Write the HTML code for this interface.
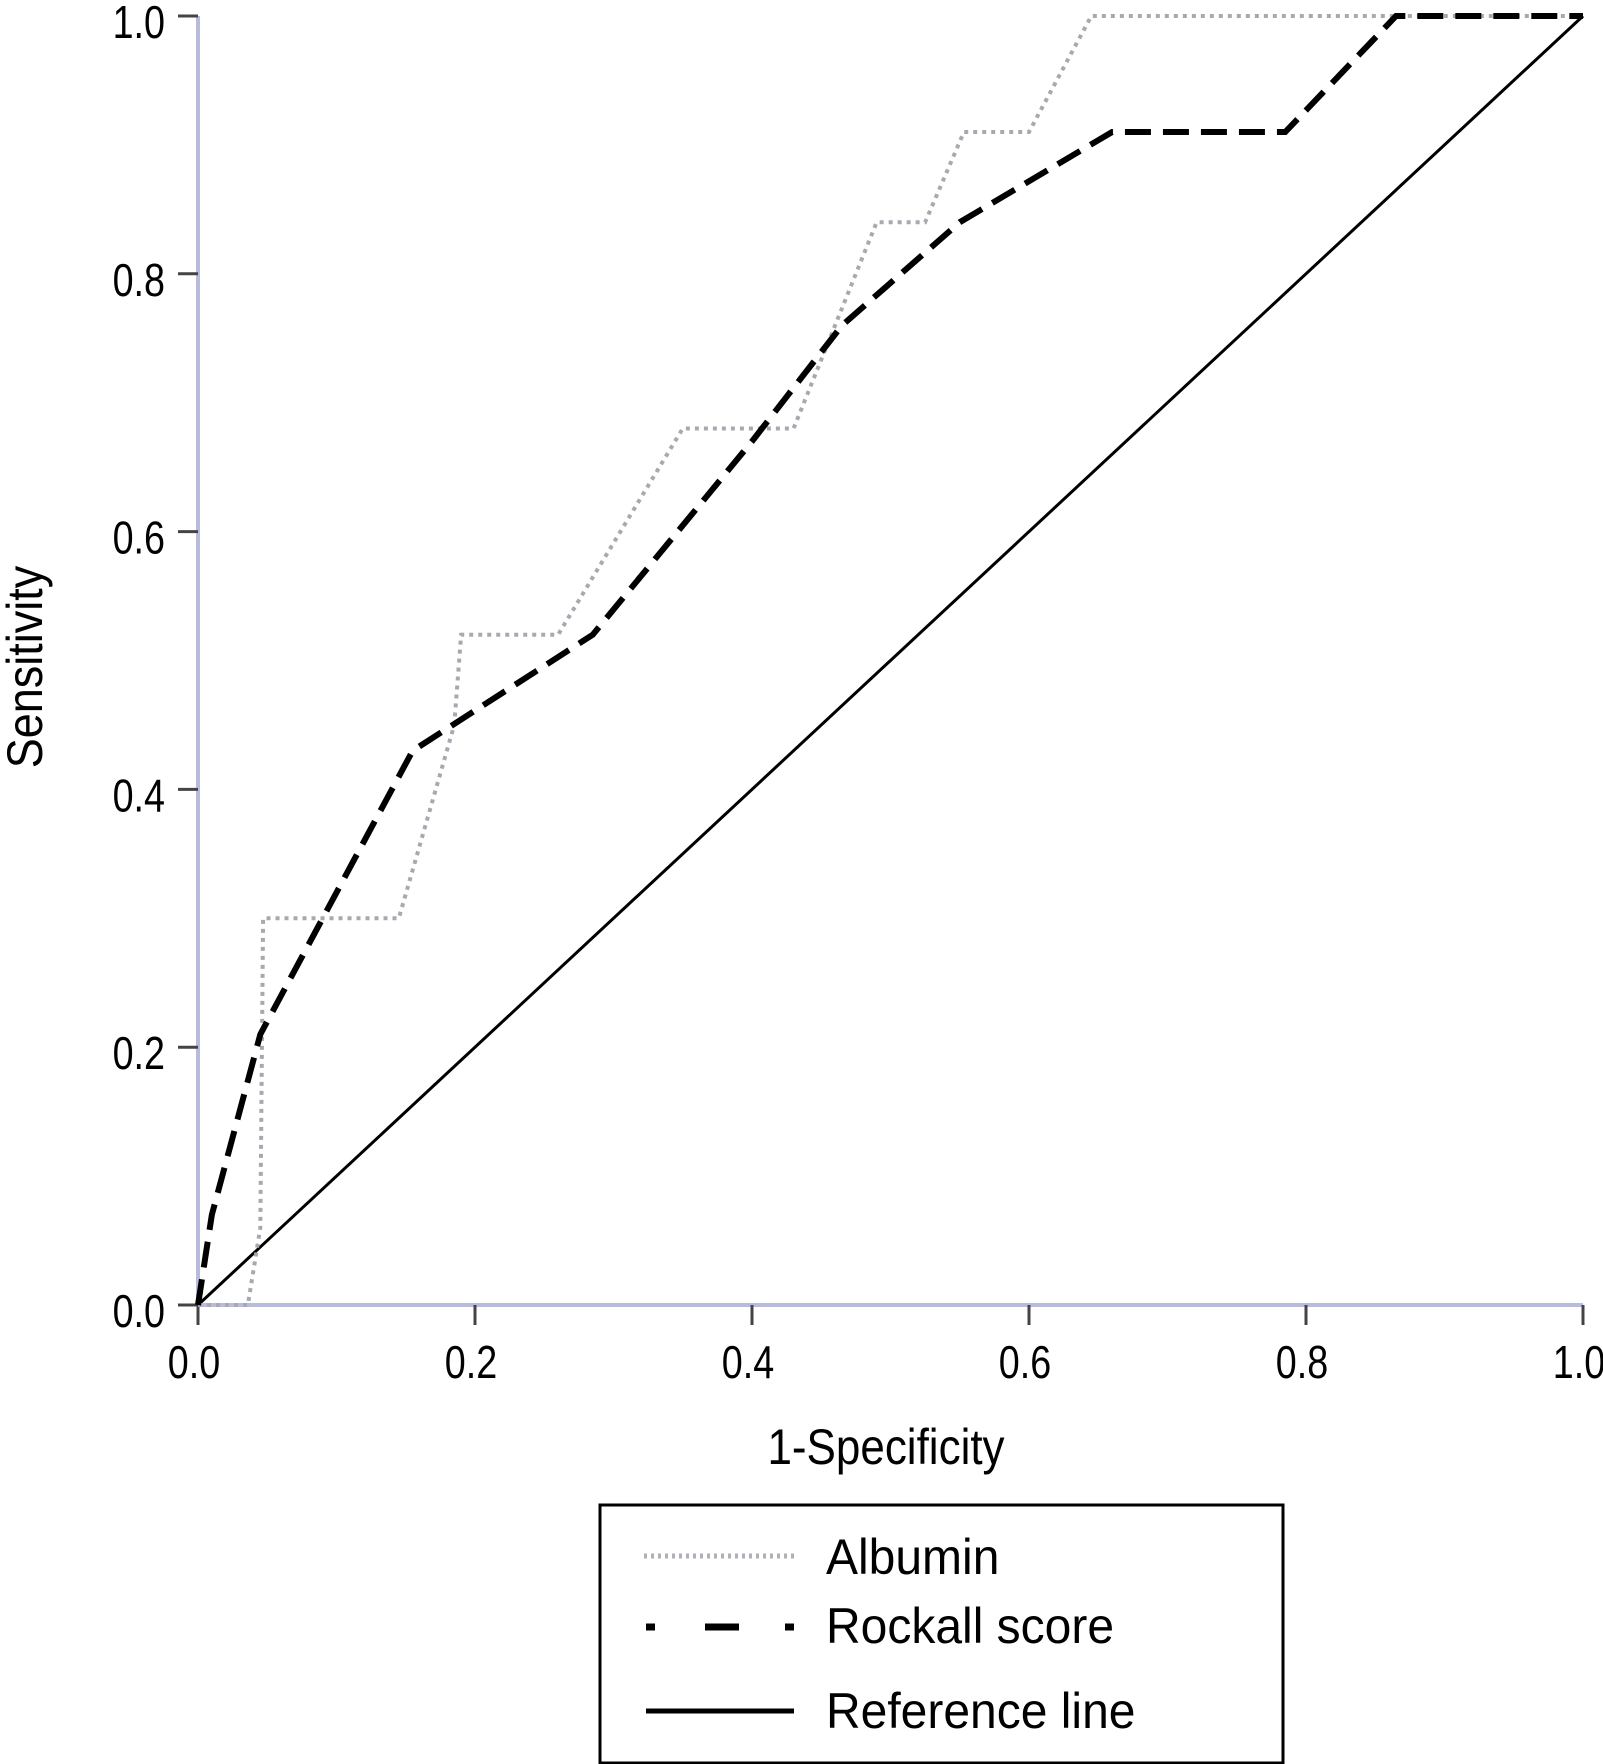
<!DOCTYPE html>
<html><head><meta charset="utf-8"><style>
html,body{margin:0;padding:0;background:#fff;}
svg{display:block;}
text{font-family:"Liberation Sans Narrow","Liberation Sans",sans-serif;fill:#000;}
</style></head><body>
<svg id="chart" width="1603" height="1764" viewBox="0 0 1603 1764" xmlns="http://www.w3.org/2000/svg">
<g id="axes"></g>
<g id="series"></g>
<text font-size="50" text-anchor="middle" transform="translate(886,1464) scale(0.88,1)">1-Specificity</text>
<text font-size="50" text-anchor="middle" transform="translate(42,667) rotate(-90) scale(0.9,1)">Sensitivity</text>
<g>
<rect x="600" y="1505" width="683" height="258" fill="none" stroke="#000" stroke-width="3"/>
<line x1="644" y1="1556" x2="794" y2="1556" stroke="#b0b0b8" stroke-width="5" stroke-dasharray="3,4"/>
<text font-size="50" transform="translate(826,1574) scale(0.96,1)">Albumin</text>
<line x1="646" y1="1627" x2="794" y2="1627" stroke="#000" stroke-width="7" stroke-dasharray="9,50,34,46,9"/>
<text font-size="50" transform="translate(826,1643) scale(0.96,1)">Rockall score</text>
<line x1="646" y1="1711" x2="794" y2="1711" stroke="#000" stroke-width="5"/>
<text font-size="50" transform="translate(826,1728) scale(0.96,1)">Reference line</text>
</g>
</svg>
<script>
const xTicks = [0, 0.2, 0.4, 0.6, 0.8, 1.0];
const yTicks = [0, 0.2, 0.4, 0.6, 0.8, 1.0];
const tickLabels = ["0.0", "0.2", "0.4", "0.6", "0.8", "1.0"];
const albuminX = [0, 0.036, 0.045, 0.047, 0.145, 0.185, 0.19, 0.26, 0.35, 0.43, 0.49, 0.525, 0.553, 0.60, 0.645, 1.0];
const albuminY = [0, 0, 0.06, 0.30, 0.30, 0.45, 0.52, 0.52, 0.68, 0.68, 0.84, 0.84, 0.91, 0.91, 1.0, 1.0];
const rockallX = [0, 0.01, 0.045, 0.09, 0.155, 0.285, 0.40, 0.465, 0.55, 0.66, 0.785, 0.865, 1.0];
const rockallY = [0, 0.07, 0.21, 0.30, 0.43, 0.52, 0.67, 0.76, 0.84, 0.91, 0.91, 1.0, 1.0];
const refX = [0, 1];
const refY = [0, 1];

const X0 = 198, X1 = 1583, Y0 = 1305, Y1 = 16;
function sx(v){ return X0 + v * (X1 - X0); }
function sy(v){ return Y0 - v * (Y0 - Y1); }
const NS = "http://www.w3.org/2000/svg";
function mk(tag, attrs, parent){
  const e = document.createElementNS(NS, tag);
  for (const k in attrs) e.setAttribute(k, attrs[k]);
  parent.appendChild(e);
  return e;
}
const axes = document.getElementById('axes');
let el = mk('line', {x1: X0, y1: Y1, x2: X0, y2: Y0, stroke: '#b8bcda', 'stroke-width': 4}, axes);


el = mk('line', {x1: X0, y1: Y0, x2: X1, y2: Y0, stroke: '#b8bcda', 'stroke-width': 4}, axes);


xTicks.forEach((v, i) => {
  const t = mk('line', {x1: sx(v), y1: Y0, x2: sx(v), y2: Y0 + 20, stroke: '#444', 'stroke-width': 3}, axes);
  
  
  const l = mk('text', {'font-size': 46, 'text-anchor': 'middle', transform: 'translate(' + (sx(v) - 4) + ',' + (Y0 + 73) + ') scale(0.82,1)'}, axes);
  l.textContent = tickLabels[i];
  
  
});
yTicks.forEach((v, i) => {
  const t = mk('line', {x1: X0 - 20, y1: sy(v), x2: X0, y2: sy(v), stroke: '#444', 'stroke-width': 3}, axes);
  
  
  const l = mk('text', {'font-size': 46, 'text-anchor': 'end', transform: 'translate(' + (X0 - 33) + ',' + (sy(v) + 22) + ') scale(0.82,1)'}, axes);
  l.textContent = tickLabels[i];
  
  
});
const series = document.getElementById('series');
function pts(xs, ys){ return xs.map((x, i) => sx(x) + ',' + sy(ys[i])).join(' '); }
el = mk('polyline', {points: pts(refX, refY), fill: 'none', stroke: '#000', 'stroke-width': 3}, series);


el = mk('polyline', {points: pts(albuminX, albuminY), fill: 'none', stroke: '#a8a8b0', 'stroke-width': 4, 'stroke-dasharray': '4,5'}, series);


el = mk('polyline', {points: pts(rockallX, rockallY), fill: 'none', stroke: '#000', 'stroke-width': 6, 'stroke-dasharray': '26,12'}, series);


</script>
</body></html>
